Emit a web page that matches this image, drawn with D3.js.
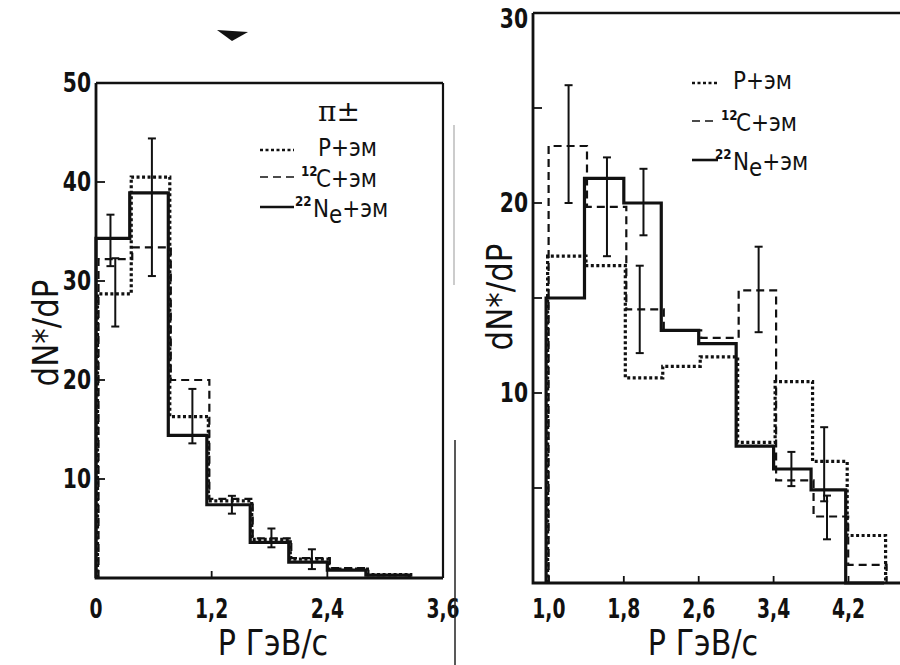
<!DOCTYPE html>
<html>
<meta charset="utf-8">
<head>
  <style>
    body { margin: 0; background: #fff; }
    svg text { font-family: "DejaVu Sans", sans-serif; fill: #111; }
    .tick { font-size: 26px; font-weight: bold; }
    .lab { font-size: 36px; }
    .leg { font-size: 25px; }
    .sup { font-size: 14px; font-weight: bold; }
  </style>
  <script src="https://d3js.org/d3.v7.min.js"></script>
</head>
<body>
<svg id="chart" width="900" height="665"></svg>
<script type="text/javascript">

  // left panel: pi+- spectra, bin edges and heights
  var leftEdges = [0, 0.35, 0.75, 1.15, 1.6, 2.0, 2.4, 2.8, 3.25];
  var leftP  = [28.7, 40.5, 16.3, 7.8, 3.9, 1.9, 0.9, 0.35];
  var leftC  = [32.2, 33.4, 20.0, 8.0, 4.0, 2.0, 1.0, 0.3];
  var leftNe = [34.3, 38.9, 14.4, 7.4, 3.6, 1.6, 0.8, 0.3];
  // error bars: x, low, high
  var leftErrX  = [0.15, 0.2, 0.58, 1.0, 1.41, 1.82, 2.24];
  var leftErrLo = [31.5, 25.4, 30.5, 13.6, 6.5, 3.1, 0.9];
  var leftErrHi = [36.7, 32.3, 44.4, 19.1, 8.3, 5.0, 2.9];
  var leftXTicks = [0, 1.2, 2.4, 3.6];
  var leftYTicks = [10, 20, 30, 40, 50];

  // right panel
  var rightEdges = [0.97, 1.38, 1.8, 2.2, 2.6, 3.0, 3.4, 3.8, 4.17, 4.58];
  var rightP  = [17.2, 16.7, 10.8, 11.4, 11.9, 7.4, 10.6, 6.4, 2.5];
  var rightC  = [23.0, 19.8, 14.4, 13.3, 12.9, 15.4, 5.4, 3.5, 0.95];
  var rightNe = [15.0, 21.3, 20.0, 13.3, 12.6, 7.2, 6.0, 4.9, 0];
  var rightErrX  = [1.21, 1.62, 2.01, 1.97, 3.24, 3.59, 3.94, 3.97];
  var rightErrLo = [20.0, 17.2, 18.3, 12.1, 13.2, 5.1, 4.3, 2.3];
  var rightErrHi = [26.2, 22.4, 21.8, 16.7, 17.7, 6.9, 8.2, 4.6];
  var rightXTicks = [1.0, 1.8, 2.6, 3.4, 4.2];
  var rightYTicks = [10, 20, 30];
  var rightYMinor = [5, 15, 25];

  var svg = d3.select("#chart");
  var fmt = function(d){ return d3.format(".1f")(d).replace(".", ",").replace(/^0,0$/, "0"); };

  // styles for the three series
  var styles = {
    P:  { w: 3.2, dash: "3,2.5", dx: 1.5 },
    C:  { w: 2.2, dash: "8,5",   dx: 2.5 },
    Ne: { w: 3.2, dash: null,    dx: 0 }
  };

  // narrow text: the scan's lettering is condensed, so squeeze horizontally
  function ntext(g, x, y, txt, cls, anchor, sx, rot){
    return g.append("text").attr("class", cls).attr("text-anchor", anchor || "start")
      .attr("transform", "translate(" + x + "," + y + ")" + (rot ? " rotate(" + rot + ")" : "") + " scale(" + sx + ",1)")
      .text(txt);
  }

  function stepPoints(edges, vals){
    var pts = [[edges[0], 0]];
    vals.forEach(function(v, i){
      pts.push([edges[i], v]);
      pts.push([edges[i+1], v]);
    });
    pts.push([edges[edges.length-1], 0]);
    return pts;
  }

  function panel(cfg){
    var x = d3.scaleLinear().domain(cfg.xdom).range(cfg.xr);
    var y = d3.scaleLinear().domain(cfg.ydom).range(cfg.yr);
    var g = svg.append("g");

    // frame
    var fr = [[cfg.xr[0], cfg.yr[1]], [cfg.xr[0], cfg.yr[0]], [cfg.xr[1], cfg.yr[0]]];
    g.append("path").attr("d", d3.line()(fr)).attr("fill", "none").attr("stroke", "#111").attr("stroke-width", 2.8);
    g.append("line").attr("x1", cfg.xr[0]).attr("x2", cfg.xr[1]).attr("y1", cfg.yr[1]).attr("y2", cfg.yr[1])
      .attr("stroke", "#111").attr("stroke-width", 2.6);
    if (cfg.rightEdge) {
      g.append("line").attr("x1", cfg.xr[1]).attr("x2", cfg.xr[1]).attr("y1", cfg.yr[1]).attr("y2", cfg.yr[0])
        .attr("stroke", "#111").attr("stroke-width", 2.2);
    }

    // y ticks inward
    cfg.yTicks.concat(cfg.yMinor || []).forEach(function(t){
      g.append("line").attr("x1", cfg.xr[0]).attr("x2", cfg.xr[0] + 9).attr("y1", y(t)).attr("y2", y(t))
        .attr("stroke", "#111").attr("stroke-width", 1.8);
    });
    cfg.yTicks.forEach(function(t){
      ntext(g, cfg.xr[0] - 5, Math.max(y(t) + 9, 28), t, "tick", "end", 0.78);
    });
    // x ticks inward
    cfg.xTicks.forEach(function(t){
      g.append("line").attr("x1", x(t)).attr("x2", x(t)).attr("y1", cfg.yr[0]).attr("y2", cfg.yr[0] - 7)
        .attr("stroke", "#111").attr("stroke-width", 1.8);
      ntext(g, x(t), 618, fmt(t), "tick", "middle", 0.72);
    });

    // histograms
    var line = d3.line().x(function(d){ return x(d[0]); }).y(function(d){ return y(d[1]); });
    [["C", cfg.C], ["P", cfg.P], ["Ne", cfg.Ne]].forEach(function(s){
      var st = styles[s[0]];
      g.append("path").attr("d", line(stepPoints(cfg.edges, s[1])))
        .attr("transform", "translate(" + st.dx + ",0)")
        .attr("fill", "none").attr("stroke", "#111").attr("stroke-width", st.w)
        .attr("stroke-dasharray", st.dash).attr("stroke-linejoin", "miter");
    });

    // error bars
    cfg.errX.forEach(function(ex, i){
      var px = x(ex), y0 = y(cfg.errLo[i]), y1 = y(cfg.errHi[i]);
      g.append("line").attr("x1", px).attr("x2", px).attr("y1", y0).attr("y2", y1).attr("stroke", "#111").attr("stroke-width", 2);
      [y0, y1].forEach(function(yy){
        g.append("line").attr("x1", px - 4).attr("x2", px + 4).attr("y1", yy).attr("y2", yy).attr("stroke", "#111").attr("stroke-width", 2);
      });
    });

    // axis titles
    ntext(g, cfg.ylabX, cfg.ylabY, "dN*/dP", "lab", "middle", 0.86, -90);
    ntext(g, cfg.xlabX, 655, "P ГэВ/с", "lab", "middle", 0.84);

    // legend
    var L = cfg.leg;
    var samples = [["P", L.y[0]], ["C", L.y[1]], ["Ne", L.y[2]]];
    samples.forEach(function(s){
      var st = styles[s[0]];
      g.append("line").attr("x1", L.x0).attr("x2", L.x1).attr("y1", s[1]).attr("y2", s[1])
        .attr("stroke", "#111").attr("stroke-width", st.w - 0.6).attr("stroke-dasharray", st.dash);
    });
    ntext(g, L.tx, L.y[0] + 6, "P+эм", "leg", "start", 0.86);
    ntext(g, L.sx, L.y[1] - 1, "12", "sup", "start", 0.85);
    ntext(g, L.sx + 15, L.y[1] + 10, "C+эм", "leg", "start", 0.86);
    ntext(g, L.sx - 6, L.y[2] - 1, "22", "sup", "start", 0.85);
    var ne = ntext(g, L.sx + 12, L.y[2] + 10, "", "leg", "start", 0.86);
    ne.append("tspan").text("N");
    ne.append("tspan").attr("dy", 6).text("e");
    ne.append("tspan").attr("dy", -6).text("+эм");
    if (L.title) {
      g.append("text").attr("x", L.tx).attr("y", L.y[0] - 29).style("font-size", "28px")
        .style("font-family", "DejaVu Serif, serif").text("π±");
    }
  }

  panel({
    xdom: [0, 3.6], xr: [96, 443], ydom: [0, 50], yr: [578, 83],
    edges: leftEdges, P: leftP, C: leftC, Ne: leftNe,
    errX: leftErrX, errLo: leftErrLo, errHi: leftErrHi,
    xTicks: leftXTicks, yTicks: leftYTicks, rightEdge: true,
    ylabX: 58, ylabY: 333, xlabX: 273,
    leg: { x0: 260, x1: 294, y: [150, 177, 207], tx: 318, sx: 301, title: true }
  });

  panel({
    xdom: [0.83, 4.75], xr: [533, 900], ydom: [0, 30], yr: [583, 13],
    edges: rightEdges, P: rightP, C: rightC, Ne: rightNe,
    errX: rightErrX, errLo: rightErrLo, errHi: rightErrHi,
    xTicks: rightXTicks, yTicks: rightYTicks, yMinor: rightYMinor, rightEdge: false,
    ylabX: 512, ylabY: 297, xlabX: 703,
    leg: { x0: 692, x1: 718, y: [83, 121, 160], tx: 733, sx: 721, title: false }
  });

  // scan artefacts: fold line between panels and the wedge mark at the top
  svg.append("line").attr("x1", 455).attr("x2", 455).attr("y1", 440).attr("y2", 665).attr("stroke", "#222").attr("stroke-width", 1.5);
  svg.append("line").attr("x1", 454).attr("x2", 454).attr("y1", 125).attr("y2", 285).attr("stroke", "#bbb").attr("stroke-width", 1.5);
  svg.append("path").attr("d", "M217,30 L248,32 L232,41 Z").attr("fill", "#111");

</script>
</body>
</html>
